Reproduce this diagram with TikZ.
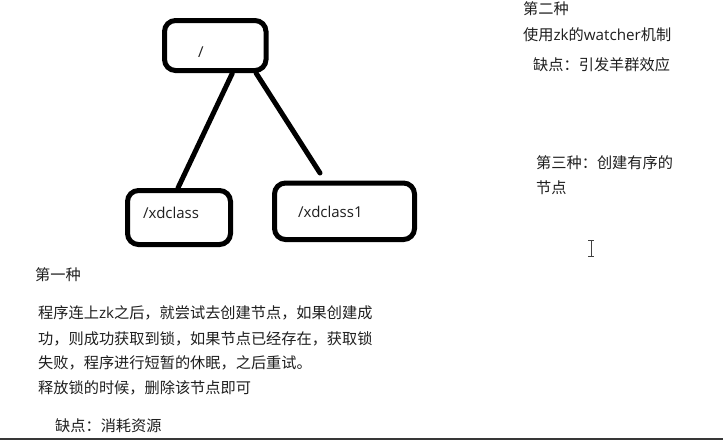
\documentclass[tikz,border=0pt]{standalone}
\usepackage{fontspec}
\setmainfont{Noto Sans CJK SC}
\newfontfamily\lat{Open Sans}
\begin{document}
\begin{tikzpicture}[x=1pt,y=-1pt,
  box/.style={draw=black, line width=5pt, rounded corners=11pt, minimum width=#1, inner sep=0pt},
  link/.style={draw=black, line width=5pt, line cap=round},
  txt/.style={anchor=base west, inner sep=0pt, font=\fontsize{15.2}{18}\selectfont, text=black!88},
  lbl/.style={anchor=base west, inner sep=0pt, font=\lat\fontsize{15}{18}\selectfont, text=black!88}]
\useasboundingbox (0,0) rectangle (723,440);
\fill[white] (0,0) rectangle (723,440);
\fill[black!78] (0,437.7) rectangle (723,440);
% boxes
\node[box=101.5pt, minimum height=50pt] (root) at (215.25,45.5) {};
\node[box=103pt, minimum height=54pt] (xd) at (179,217.5) {};
\node[box=140pt, minimum height=56.5pt] (xd1) at (344.5,211.25) {};
\coordinate (xd1end) at (320,173);
\draw[link] (root.-58) -- (xd.92);
\draw[link] (root.-34) -- (xd1end);
% box labels
\node[lbl] (rootlbl) at (198,57) {/};
\node[lbl] (xdlbl) at (143,218.5) {/xdclass};
\node[lbl] (xd1lbl) at (298,217.5) {/xdclass1};
% right texts
\node[txt] (t2) at (523,14.7) {第二种};
\node[txt] (t2a) at (523,40.7) {使用{\lat zk}的{\lat watcher}机制};
\node[txt] (t2b) at (533,70.7) {缺点：引发羊群效应};
\node[txt] (t3) at (536,168.7) {第三种：创建有序的};
\node[txt] (t3a) at (536,193.7) {节点};
% cursor
\draw[black!75, line width=1pt] (591,240) -- (591,256)
  (588,240) -- (594,240) (588,256) -- (594,256);
% left texts
\node[txt] (t1) at (35,280.7) {第一种};
\node[txt] (p1) at (38,318.7) {程序连上{\lat zk}之后，就尝试去创建节点，如果创建成};
\node[txt] (p2) at (38,344.2) {功，则成功获取到锁，如果节点已经存在，获取锁};
\node[txt] (p3) at (38,368.7) {失败，程序进行短暂的休眠，之后重试。};
\node[txt] (p4) at (38,393.5) {释放锁的时候，删除该节点即可};
\node[txt] (t1b) at (55,431.7) {缺点：消耗资源};
\end{tikzpicture}
\end{document}
